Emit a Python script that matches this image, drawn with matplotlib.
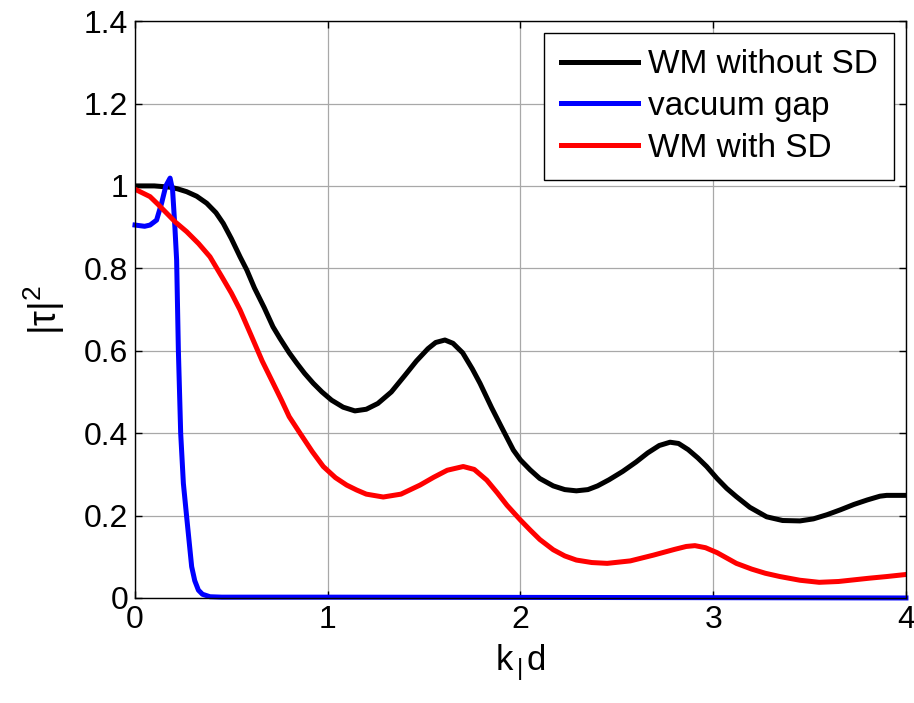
import matplotlib

matplotlib.use("Agg")
import matplotlib.pyplot as plt
import numpy as np

plt.rcParams["font.family"] = ["Liberation Sans", "DejaVu Sans"]
plt.rcParams["mathtext.fontset"] = "custom"
plt.rcParams["mathtext.rm"] = "Liberation Sans"
plt.rcParams["mathtext.it"] = "Liberation Sans"

# transmission |tau|^2 versus k d, sampled along each curve
k_wm = [0.0, 0.10, 0.18, 0.22, 0.268, 0.32, 0.372, 0.42, 0.458, 0.50, 0.545, 0.58,
        0.62, 0.67, 0.716, 0.752, 0.80, 0.839, 0.88, 0.925, 0.97, 1.02, 1.08, 1.141,
        1.20, 1.26, 1.33, 1.40, 1.46, 1.52, 1.56, 1.608, 1.65, 1.70, 1.75, 1.79,
        1.85, 1.90, 1.963, 2.0, 2.05, 2.10, 2.17, 2.23, 2.29, 2.35, 2.40, 2.46,
        2.53, 2.60, 2.66, 2.72, 2.776, 2.82, 2.87, 2.92, 2.966, 3.02, 3.07, 3.12,
        3.19, 3.277, 3.36, 3.45, 3.52, 3.59, 3.66, 3.73, 3.80, 3.865, 3.90, 4.0]
t_wm = [1.0, 1.0, 0.997, 0.993, 0.986, 0.975, 0.958, 0.935, 0.909, 0.872, 0.828, 0.796,
        0.752, 0.705, 0.658, 0.630, 0.595, 0.570, 0.545, 0.521, 0.500, 0.480, 0.463, 0.454,
        0.458, 0.472, 0.500, 0.540, 0.575, 0.605, 0.620, 0.626, 0.618, 0.595, 0.556, 0.521,
        0.462, 0.416, 0.359, 0.335, 0.311, 0.290, 0.272, 0.263, 0.260, 0.263, 0.272, 0.287,
        0.307, 0.330, 0.352, 0.370, 0.378, 0.375, 0.360, 0.340, 0.319, 0.290, 0.266, 0.246,
        0.220, 0.197, 0.188, 0.187, 0.192, 0.202, 0.214, 0.227, 0.238, 0.247, 0.249, 0.249]

k_vac = [0.0, 0.05, 0.078, 0.112, 0.138, 0.16, 0.182, 0.195, 0.207, 0.216, 0.225, 0.237,
         0.251, 0.268, 0.294, 0.31, 0.329, 0.35, 0.389, 0.45, 1.0, 1.9, 4.0]
t_vac = [0.905, 0.902, 0.905, 0.917, 0.958, 1.0, 1.019, 0.99, 0.90, 0.82, 0.602, 0.40,
         0.278, 0.197, 0.076, 0.042, 0.019, 0.009, 0.003, 0.002, 0.002, 0.0015, 0.0]

k_sd = [0.0, 0.078, 0.12, 0.164, 0.21, 0.268, 0.33, 0.389, 0.45, 0.50, 0.545, 0.60,
        0.66, 0.718, 0.76, 0.80, 0.856, 0.92, 0.977, 1.04, 1.098, 1.15, 1.20, 1.288,
        1.38, 1.479, 1.55, 1.62, 1.703, 1.76, 1.825, 1.88, 1.93, 2.0, 2.05, 2.10,
        2.17, 2.23, 2.29, 2.37, 2.45, 2.57, 2.69, 2.80, 2.86, 2.905, 2.96, 3.02,
        3.07, 3.12, 3.20, 3.27, 3.346, 3.45, 3.55, 3.65, 3.73, 3.81, 3.90, 4.0]
t_sd = [0.992, 0.974, 0.955, 0.934, 0.912, 0.889, 0.860, 0.828, 0.780, 0.740, 0.699, 0.640,
        0.575, 0.520, 0.480, 0.440, 0.400, 0.355, 0.319, 0.292, 0.274, 0.262, 0.252, 0.245,
        0.252, 0.274, 0.293, 0.310, 0.319, 0.312, 0.286, 0.255, 0.225, 0.189, 0.165, 0.142,
        0.117, 0.102, 0.092, 0.086, 0.084, 0.090, 0.104, 0.118, 0.125, 0.127, 0.122, 0.110,
        0.097, 0.084, 0.070, 0.060, 0.052, 0.043, 0.038, 0.040, 0.044, 0.048, 0.052, 0.057]

fig = plt.figure(figsize=(9.14, 7.03), dpi=100)
ax = fig.add_axes([0.1477, 0.1494, 0.8435, 0.8206])

ax.plot(k_wm, t_wm, color="black", linewidth=3.6, label="WM without SD")
ax.plot(k_vac, t_vac, color="#0000ff", linewidth=3.6, label="vacuum gap", clip_on=False)
ax.plot(k_sd, t_sd, color="#ff0000", linewidth=3.6, label="WM with SD")

ax.set_xlim(0, 4)
ax.set_ylim(0, 1.4)
ax.set_xticks([0, 1, 2, 3, 4])
ax.set_yticks(np.arange(0, 1.41, 0.2))
ax.set_yticklabels(["0", "0.2", "0.4", "0.6", "0.8", "1", "1.2", "1.4"])
ax.tick_params(direction="in", top=True, right=True, labelsize=23, length=5, width=1, pad=5)
ax.grid(True, color="#a8a8a8", linewidth=0.9)
ax.set_axisbelow(True)
for sp in ax.spines.values():
    sp.set_linewidth(1.0)

ax.set_xlabel(r"k$_{\,|\,}$d", fontsize=25, labelpad=5)
ax.set_ylabel(r"$|\tau|^2$", fontsize=27, labelpad=12)

leg = ax.legend(loc="upper right", fontsize=24, frameon=True, fancybox=False,
                edgecolor="black", framealpha=1, handlelength=2.3, handletextpad=0.3,
                borderpad=0.5, labelspacing=0.32, borderaxespad=0.35)
leg.get_frame().set_linewidth(1.0)

fig.savefig("out.png", dpi=100)
